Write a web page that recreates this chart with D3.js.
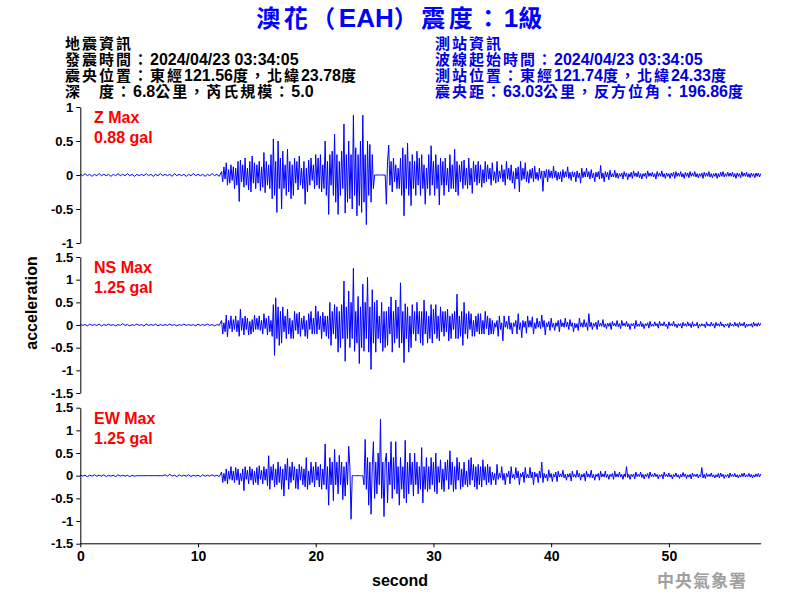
<!DOCTYPE html>
<html><head><meta charset="utf-8">
<script src="https://cdn.jsdelivr.net/npm/d3@7"></script>
<style>
html,body{margin:0;padding:0;background:#fff;}
svg{display:block;}
</style></head>
<body>
<svg id="chart" width="800" height="600"></svg>
<script>
// ---------------- DATA ----------------
const titleText = "澳花（EAH）震度：1級";
const quakeInfo = ["地震資訊","發震時間：2024/04/23 03:34:05","震央位置：東經121.56度，北緯23.78度","深　度：6.8公里，芮氏規模：5.0"];
const stationInfo = ["測站資訊","波線起始時間：2024/04/23 03:34:05","測站位置：東經121.74度，北緯24.33度","震央距：63.03公里，反方位角：196.86度"];
const componentNames = ["Z Max","NS Max","EW Max"];
const peakLabels = ["0.88 gal","1.25 gal","1.25 gal"];
const yTicksZ = [-1,-0.5,0,0.5,1];
const yTicksH = [-1.5,-1,-0.5,0,0.5,1,1.5];
const xTicks = [0,10,20,30,40,50];
const timeMax = 57.8;
// sampling: quiet 0–11.8 s every 0.2 s, strong 12.0–34.9 s every 0.1 s, coda 35.0–57.8 s every 0.1 s
const quietStart = 0,  quietStep = 0.2;
const strongStart = 12, strongStep = 0.1;
const codaStart = 35,  codaStep = 0.1;

// ---- Z component (gal)
const zQuiet = [
0.01,-0.01,0.02,-0.01,0.01,-0.02,0.01,-0.01,0.02,-0.01,
0.01,-0.01,0.01,-0.02,0.01,-0.01,0.02,-0.01,0.01,-0.01,
0.02,-0.01,0.01,-0.02,0.01,-0.01,0.01,-0.01,0.02,-0.01,
0.01,-0.02,0.01,-0.01,0.02,-0.01,0.01,-0.01,0.01,-0.02,
0.02,-0.01,0.01,-0.01,0.01,-0.02,0.01,-0.01,0.02,-0.01,
0.01,-0.01,0.01,-0.02,0.01,-0.01,0.02,-0.01,0.01,-0.02];
const zStrong = [
0.05,-0.1,0.12,-0.06,0.18,-0.15,0.08,-0.12,0.15,-0.08,
0.12,-0.2,0.1,-0.15,0.2,-0.39,0.22,-0.1,0.15,-0.18,
0.25,-0.15,0.1,-0.22,0.2,-0.25,0.28,-0.12,0.18,-0.2,
0.15,-0.12,0.2,-0.23,0.12,-0.18,0.33,-0.26,0.2,-0.15,
0.15,-0.2,0.3,-0.35,0.53,-0.3,0.2,-0.55,0.5,-0.2,
0.25,-0.5,0.35,-0.2,0.15,-0.3,0.38,-0.25,0.2,-0.35,
0.15,-0.3,0.25,-0.12,0.2,-0.22,0.28,-0.15,0.1,-0.2,
0.2,-0.43,0.1,-0.25,0.22,-0.15,0.25,-0.08,0.15,-0.2,
0.3,-0.15,0.25,-0.2,0.3,-0.25,0.15,-0.2,0.5,-0.3,
0.2,-0.58,0.3,-0.15,0.35,-0.3,0.6,-0.4,0.3,-0.58,
0.2,-0.3,0.35,-0.2,0.75,-0.56,0.3,-0.4,0.5,-0.35,
0.3,-0.5,0.88,-0.3,0.4,-0.6,0.3,-0.45,0.5,-0.55,
0.88,-0.4,0.3,-0.73,0.5,-0.3,0.45,-0.4,0.3,-0.2,
0,0,0,0,0,0,0,0,0,0,
-0.43,0.2,0.44,-0.15,0.2,-0.25,0.25,-0.1,0.15,-0.2,
0.1,-0.2,0.25,-0.3,0.4,-0.6,0.3,-0.2,0.47,-0.3,
0.2,-0.45,0.3,-0.2,0.2,-0.3,0.35,-0.15,0.25,-0.3,
0.3,-0.2,0.15,-0.43,0.1,-0.2,0.3,-0.3,0.43,-0.15,
0.2,-0.3,0.3,-0.2,0.15,-0.44,0.25,-0.15,0.2,-0.3,
0.25,-0.15,0.1,-0.25,0.3,-0.2,0.15,-0.2,0.38,-0.25,
0.2,-0.3,0.15,-0.1,0.2,-0.2,0.22,-0.15,0.1,-0.2,
0.25,-0.15,0.1,-0.27,0.2,-0.1,0.15,-0.15,0.2,-0.12,
0.15,-0.18,0.08,-0.12,0.2,-0.1,0.15,-0.06,0.1,-0.15];
const zCoda = [
0.18,-0.08,0.05,-0.12,0.2,-0.1,0.06,-0.05,0.15,-0.1,
0.08,-0.15,0.2,-0.06,0.1,-0.08,0.15,-0.12,0.05,-0.2,
0.1,-0.06,0.12,-0.25,0.2,-0.08,0.1,-0.06,0.18,-0.1,
0.05,-0.12,0.08,-0.05,0.1,-0.1,0.13,-0.06,0.04,-0.08,
0.1,-0.05,0.06,-0.24,0.06,-0.04,0.08,-0.1,0.08,-0.04,
0.06,-0.05,0.13,-0.04,0.06,-0.08,0.04,-0.06,0.05,-0.1,
0.08,-0.04,0.05,-0.03,0.12,-0.05,0.04,-0.08,0.05,-0.03,
0.04,-0.1,0.06,-0.04,0.03,-0.12,0.1,-0.04,0.05,-0.03,
0.1,-0.03,0.05,-0.06,0.08,-0.04,0.03,-0.1,0.04,-0.03,
0.05,-0.06,0.14,-0.05,0.03,-0.1,0.05,-0.03,0.04,-0.07,
0.07,-0.03,0.02,-0.03,0.07,-0.04,0.03,-0.05,0.02,-0.02,
0.03,-0.06,0.05,-0.02,0.03,-0.07,0.02,-0.03,0.04,-0.05,
0.06,-0.02,0.03,-0.03,0.05,-0.04,0.02,-0.06,0.02,-0.02,
0.03,-0.05,0.06,-0.02,0.03,-0.02,0.04,-0.03,0.02,-0.06,
0.05,-0.02,0.03,-0.02,0.06,-0.03,0.02,-0.05,0.03,-0.02,
0.02,-0.05,0.03,-0.02,0.04,-0.05,0.05,-0.02,0.03,-0.02,
0.05,-0.03,0.02,-0.05,0.04,-0.02,0.03,-0.04,0.05,-0.02,
0.03,-0.02,0.05,-0.03,0.02,-0.04,0.02,-0.02,0.03,-0.05,
0.04,-0.02,0.03,-0.02,0.05,-0.03,0.02,-0.04,0.02,-0.02,
0.03,-0.05,0.02,-0.03,0.04,-0.02,0.05,-0.03,0.02,-0.02,
0.04,-0.02,0.03,-0.02,0.04,-0.03,0.02,-0.05,0.03,-0.02,
0.02,-0.04,0.05,-0.02,0.03,-0.02,0.04,-0.03,0.02,-0.04,
0.03,-0.02,0.02,-0.04,0.03,-0.02,0.03,-0.03,0.02];

// ---- NS component (gal)
const nsQuiet = [
0.02,-0.01,0.01,-0.02,0.02,-0.01,0.01,-0.01,0.02,-0.02,
0.01,-0.01,0.02,-0.01,0.01,-0.02,0.01,-0.01,0.03,-0.01,
0.01,-0.02,0.01,-0.01,0.02,-0.01,0.01,-0.02,0.02,-0.01,
0.01,-0.01,0.02,-0.02,0.01,-0.01,0.01,-0.01,0.02,-0.01,
0.01,-0.02,0.01,-0.01,0.02,-0.01,0.01,-0.01,0.01,-0.02,
0.02,-0.01,0.01,-0.01,0.02,-0.01,0.01,-0.02,0.01,-0.01];
const nsStrong = [
0.1,-0.2,0.05,-0.15,0.22,-0.26,0.1,-0.08,0.2,-0.15,
0.12,-0.1,0.2,-0.15,0.1,-0.25,0.35,-0.12,0.15,-0.22,
0.2,-0.1,0.15,-0.22,0.08,-0.2,0.12,-0.15,0.22,-0.1,
0.15,-0.1,0.2,-0.12,0.1,-0.2,0.25,-0.08,0.15,-0.22,
0.2,-0.15,0.1,-0.25,0.45,-0.67,0.6,-0.3,0.4,-0.45,
0.3,-0.4,0.4,-0.15,0.2,-0.3,0.35,-0.2,0.15,-0.3,
0.1,-0.3,0.3,-0.12,0.25,-0.2,0.28,-0.25,0.15,-0.1,
0.2,-0.25,0.1,-0.3,0.25,-0.1,0.3,-0.2,0.15,-0.2,
0.42,-0.2,0.3,-0.1,0.2,-0.3,0.28,-0.15,0.2,-0.25,
0.2,-0.3,0.5,-0.45,0.3,-0.2,0.45,-0.3,0.4,-0.6,
0.3,-0.5,0.45,-0.3,0.97,-0.8,0.4,-0.3,0.75,-0.5,
0.5,-0.3,1.25,-0.58,0.3,-0.4,0.63,-0.85,0.4,-0.5,
0.9,-0.58,0.5,-0.3,1.05,-0.6,0.4,-0.98,0.78,-0.4,
0.5,-0.6,0.55,-0.3,0.2,-0.4,0.5,-0.58,0.3,-0.5,
0.3,-0.45,0.4,-0.2,0.62,-0.6,0.3,-0.4,0.55,-0.3,
0.4,-0.5,0.93,-0.4,0.3,-0.83,0.47,-0.3,0.4,-0.6,
0.2,-0.5,0.45,-0.2,0.3,-0.35,0.5,-0.2,0.3,-0.4,
0.3,-0.45,0.55,-0.2,0.3,-0.4,0.2,-0.3,0.45,-0.4,
0.35,-0.2,0.45,-0.3,0.2,-0.35,0.4,-0.15,0.3,-0.25,
0.3,-0.15,0.35,-0.35,0.2,-0.3,0.25,-0.1,0.3,-0.3,
0.68,-0.3,0.2,-0.25,0.3,-0.45,0.5,-0.2,0.25,-0.3,
0.3,-0.1,0.25,-0.25,0.1,-0.25,0.2,-0.15,0.25,-0.2,
0.25,-0.2,0.1,-0.2,0.3,-0.08,0.2,-0.22,0.15,-0.2];
const nsCoda = [
0.1,-0.2,0.05,-0.05,0.1,-0.25,0.2,-0.1,0.05,-0.35,
0.2,-0.05,0.08,-0.08,0.2,-0.1,0.05,-0.2,0.05,-0.03,
0.1,-0.2,0.25,-0.1,0.05,-0.28,0.1,-0.05,0.08,-0.18,
0.2,-0.05,0.1,-0.05,0.18,-0.2,0.05,-0.08,0.15,-0.05,
0.08,-0.08,0.22,-0.05,0.1,-0.22,0.05,-0.04,0.08,-0.12,
0.15,-0.05,0.04,-0.12,0.05,-0.03,0.1,-0.15,0.12,-0.04,
0.05,-0.05,0.15,-0.04,0.06,-0.1,0.12,-0.03,0.05,-0.15,
0.04,-0.06,0.03,-0.12,0.15,-0.04,0.05,-0.05,0.12,-0.04,
0.05,-0.12,0.25,-0.04,0.06,-0.1,0.04,-0.03,0.06,-0.1,
0.1,-0.03,0.04,-0.03,0.12,-0.05,0.03,-0.08,0.04,-0.03,
0.05,-0.1,0.08,-0.02,0.04,-0.03,0.1,-0.04,0.03,-0.08,
0.1,-0.02,0.04,-0.03,0.08,-0.04,0.03,-0.1,0.03,-0.02,
0.04,-0.08,0.1,-0.03,0.02,-0.03,0.08,-0.04,0.03,-0.08,
0.03,-0.02,0.05,-0.07,0.08,-0.03,0.02,-0.03,0.07,-0.02,
0.03,-0.07,0.08,-0.02,0.03,-0.02,0.07,-0.03,0.02,-0.08,
0.07,-0.02,0.03,-0.02,0.08,-0.03,0.02,-0.06,0.03,-0.02,
0.03,-0.07,0.06,-0.02,0.03,-0.03,0.07,-0.02,0.03,-0.06,
0.07,-0.03,0.02,-0.02,0.06,-0.07,0.02,-0.03,0.03,-0.02,
0.02,-0.06,0.07,-0.02,0.02,-0.03,0.06,-0.02,0.03,-0.07,
0.06,-0.02,0.03,-0.03,0.07,-0.02,0.02,-0.05,0.02,-0.02,
0.03,-0.06,0.05,-0.02,0.02,-0.03,0.06,-0.02,0.03,-0.05,
0.06,-0.02,0.03,-0.02,0.06,-0.06,0.02,-0.03,0.02,-0.02,
0.03,-0.05,0.06,-0.02,0.03,-0.03,0.05,-0.02,0.04];

// ---- EW component (gal)
const ewQuiet = [
0.02,-0.01,0.01,-0.02,0.01,-0.01,0.02,-0.01,0.01,-0.01,
0.02,-0.02,0.01,-0.01,0.01,-0.02,0.02,-0.01,0.01,-0.01,
0.01,-0.02,0.01,-0.01,0,0,0,0,0,0,
0,0,0,0,0,0,0.02,-0.01,0.03,-0.01,
0.01,-0.02,0.02,-0.01,0.01,-0.01,0.02,-0.02,0.01,-0.01,
0.01,-0.02,0.02,-0.01,0.01,-0.01,0.02,-0.01,0.01,-0.02];
const ewStrong = [
0.08,-0.15,0.05,-0.12,0.15,-0.18,0.1,-0.08,0.2,-0.1,
0.1,-0.15,0.18,-0.1,0.15,-0.2,0.05,-0.12,0.15,-0.33,
0.2,-0.08,0.12,-0.18,0.2,-0.1,0.15,-0.2,0.1,-0.15,
0.18,-0.2,0.22,-0.08,0.12,-0.18,0.2,-0.1,0.15,-0.22,
0.44,-0.3,0.2,-0.1,0.25,-0.25,0.15,-0.2,0.3,-0.15,
0.2,-0.3,0.15,-0.45,0.25,-0.1,0.38,-0.3,0.2,-0.15,
0.3,-0.1,0.2,-0.28,0.15,-0.3,0.25,-0.1,0.2,-0.2,
0.15,-0.25,0.4,-0.3,0.1,-0.2,0.3,-0.15,0.2,-0.25,
0.3,-0.1,0.2,-0.25,0.25,-0.3,0.15,-0.2,0.7,-0.3,
0.2,-0.65,0.4,-0.2,0.3,-0.55,0.58,-0.2,0.3,-0.4,
0.45,-0.2,0.3,-0.53,0.2,-0.45,0.3,-0.2,0.65,0.2,
-0.96,0,0,0,0,0,0,0,0,0,
0,-0.2,0.8,-0.3,0.4,-0.65,0.3,-0.85,0.2,0.75,
-0.5,0.3,-0.4,0.5,-0.2,1.25,-0.5,0.3,-0.9,0.3,
0.5,-0.6,0.3,-0.2,0.75,-0.5,0.4,-0.3,0.75,-0.4,
0.2,-0.65,0.4,-0.3,0.2,-0.5,0.78,-0.6,0.3,-0.4,
0.5,-0.2,0.3,-0.45,0.5,-0.2,0.3,-0.4,0.2,-0.3,
0.62,-0.6,0.2,-0.3,0.4,-0.35,0.2,-0.3,0.4,-0.2,
0.3,-0.35,0.5,-0.4,0.2,-0.15,0.35,-0.3,0.15,-0.35,
0.3,-0.1,0.35,-0.3,0.55,-0.2,0.3,-0.35,0.2,-0.3,
0.4,-0.1,0.3,-0.3,0.15,-0.25,0.3,-0.2,0.1,-0.25,
0.35,-0.2,0.4,-0.1,0.25,-0.25,0.2,-0.3,0.25,-0.2,
0.2,-0.25,0.35,-0.1,0.2,-0.2,0.25,-0.15,0.2,-0.2];
const ewCoda = [
0.08,-0.1,0.05,-0.2,0.25,-0.08,0.05,-0.05,0.2,-0.1,
0.05,-0.2,0.05,-0.03,0.1,-0.18,0.2,-0.05,0.03,-0.08,
0.18,-0.05,0.1,-0.2,0.05,-0.03,0.08,-0.15,0.18,-0.05,
0.03,-0.05,0.18,-0.05,0.08,-0.2,0.08,-0.03,0.05,-0.15,
0.1,-0.05,0.3,-0.15,0.05,-0.05,0.03,-0.12,0.13,-0.04,
0.05,-0.13,0.04,-0.03,0.08,-0.13,0.1,-0.03,0.04,-0.03,
0.12,-0.05,0.03,-0.1,0.04,-0.03,0.05,-0.12,0.1,-0.03,
0.03,-0.04,0.12,-0.03,0.05,-0.1,0.03,-0.03,0.05,-0.12,
0.1,-0.03,0.04,-0.04,0.12,-0.05,0.03,-0.1,0.03,-0.02,
0.05,-0.1,0.1,-0.03,0.04,-0.03,0.1,-0.04,0.03,-0.08,
0.03,-0.02,0.05,-0.08,0.1,-0.03,0.04,-0.03,0.08,-0.03,
0.03,-0.08,0.04,-0.03,0.2,-0.04,0.03,-0.08,0.03,-0.02,
0.04,-0.07,0.08,-0.02,0.03,-0.02,0.08,-0.04,0.03,-0.07,
0.03,-0.02,0.05,-0.06,0.08,-0.02,0.03,-0.03,0.06,-0.02,
0.03,-0.07,0.02,-0.02,0.03,-0.07,0.08,-0.02,0.03,-0.03,
0.06,-0.03,0.02,-0.07,0.03,-0.02,0.06,-0.03,0.02,-0.06,
0.03,-0.03,0.07,-0.02,0.04,-0.06,0.02,-0.03,0.03,-0.07,
0.06,-0.02,0.03,-0.02,0.04,-0.05,0.02,-0.02,0.18,-0.05,
0.03,-0.06,0.05,-0.02,0.03,-0.02,0.06,-0.03,0.02,-0.05,
0.02,-0.03,0.05,-0.05,0.06,-0.02,0.03,-0.06,0.02,-0.02,
0.03,-0.05,0.06,-0.02,0.03,-0.02,0.05,-0.03,0.02,-0.05,
0.02,-0.03,0.05,-0.02,0.06,-0.03,0.02,-0.02,0.05,-0.03,
0.03,-0.05,0.02,-0.03,0.04,-0.02,0.05,-0.03,0.04];

const tickSets = [yTicksZ, yTicksH, yTicksH];
function toSeries(quiet, strong, coda) {
  return quiet.map((v, k) => [quietStart + k * quietStep, v])
    .concat(strong.map((v, k) => [strongStart + k * strongStep, v]))
    .concat(coda.map((v, k) => [codaStart + k * codaStep, v]));
}
const traces = [toSeries(zQuiet, zStrong, zCoda), toSeries(nsQuiet, nsStrong, nsCoda), toSeries(ewQuiet, ewStrong, ewCoda)];

// ---------------- DRAW ----------------
const svg = d3.select("#chart");
svg.append("rect").attr("width",800).attr("height",600).attr("fill","#fff");
const latin = "'Liberation Sans', Arial, 'Noto Sans CJK TC', sans-serif";
const cjk = "'Noto Sans CJK TC', sans-serif";

function mixedText(sel, str, latinSize, cjkSize, cjkSpacing) {
  const re = /[\u3000-\u9fff\uff00-\uffef]+|[^\u3000-\u9fff\uff00-\uffef]+/g;
  str.match(re).forEach(r => {
    const isCjk = /[\u3000-\u9fff\uff00-\uffef]/.test(r);
    sel.append("tspan")
      .attr("font-family", isCjk ? cjk : latin)
      .attr("font-size", (isCjk ? cjkSize : latinSize) + "px")
      .attr("letter-spacing", isCjk ? cjkSpacing + "px" : "0px")
      .text(r);
  });
}

const x = d3.scaleLinear().domain([0, timeMax]).range([80.3, 760.7]);
const panelTop = [107, 257, 407.7];
const panelH = 136;

traces.forEach((pts, i) => {
  const lim = d3.max(tickSets[i]);
  const y = d3.scaleLinear().domain([-lim, lim]).range([panelTop[i] + panelH, panelTop[i]]);
  const line = d3.line().x(d => x(d[0])).y(d => y(d[1]));
  svg.append("path").datum(pts)
    .attr("d", line)
    .attr("fill","none").attr("stroke","#0000ff").attr("stroke-width",1);

  const ax = svg.append("g").attr("transform","translate(80.3,0)")
    .call(d3.axisLeft(y).tickValues(tickSets[i]).tickSize(4).tickSizeOuter(0).tickPadding(3)
      .tickFormat(d => String(d)));
  ax.select(".domain").attr("stroke","#000");
  ax.selectAll("line").attr("stroke","#000");
  ax.selectAll("text").attr("font-family", latin).attr("font-size","13px")
    .attr("font-weight","bold").attr("fill","#000");

  svg.append("text").attr("x",94).attr("y",panelTop[i]+16)
    .attr("font-family",latin).attr("font-size","16px").attr("font-weight","bold")
    .attr("fill","#ff0000").text(componentNames[i]);
  svg.append("text").attr("x",94).attr("y",panelTop[i]+36)
    .attr("font-family",latin).attr("font-size","16px").attr("font-weight","bold")
    .attr("fill","#ff0000").text(peakLabels[i]);
});

const xa = svg.append("g").attr("transform","translate(0,543.3)")
  .call(d3.axisBottom(x).tickValues(xTicks).tickSize(4).tickSizeOuter(0).tickPadding(4));
xa.select(".domain").attr("stroke","#000");
xa.selectAll("line").attr("stroke","#000");
xa.selectAll("text").attr("font-family",latin).attr("font-size","14px")
  .attr("font-weight","bold").attr("fill","#000");

// title
const title = svg.append("text").attr("x",401).attr("y",27).attr("text-anchor","middle")
  .attr("font-weight","bold").attr("fill","#0000ff");
mixedText(title, titleText, 26, 24, 3.5);

// info blocks
quakeInfo.forEach((s, k) => {
  const t = svg.append("text").attr("x",65).attr("y",48.5 + k*16)
    .attr("font-weight","bold").attr("fill","#000");
  mixedText(t, s, 16, 15, 2);
});
stationInfo.forEach((s, k) => {
  const t = svg.append("text").attr("x",435).attr("y",48.5 + k*16)
    .attr("font-weight","bold").attr("fill","#0000dd");
  mixedText(t, s, 16, 15, 2);
});

// axis titles
svg.append("text").attr("transform","translate(37,303) rotate(-90)")
  .attr("text-anchor","middle").attr("font-family",latin).attr("font-size","16px")
  .attr("font-weight","bold").attr("fill","#000").text("acceleration");
svg.append("text").attr("x",400).attr("y",586).attr("text-anchor","middle")
  .attr("font-family",latin).attr("font-size","16px").attr("font-weight","bold")
  .attr("fill","#000").text("second");

// watermark
svg.append("text").attr("x",657).attr("y",587)
  .attr("font-family",cjk).attr("font-size","17px")
  .attr("font-weight","bold").attr("letter-spacing","1px").attr("fill","#a0a0a0").text("中央氣象署");
</script>
</body></html>
